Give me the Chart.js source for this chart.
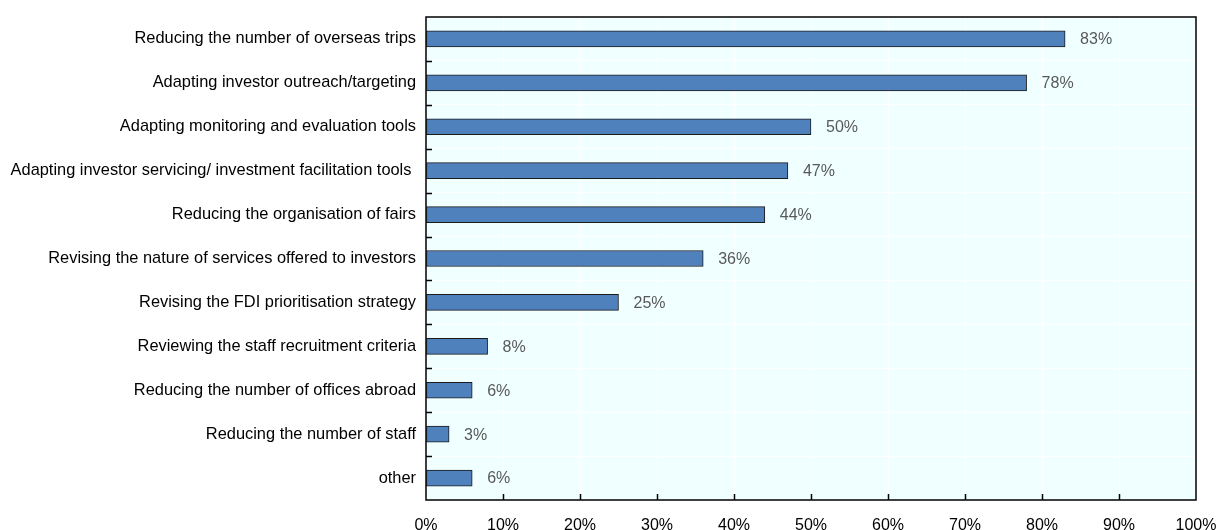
<!DOCTYPE html>
<html>
<head>
<meta charset="utf-8">
<script src="https://cdn.jsdelivr.net/npm/chart.js@4.4.0/dist/chart.umd.min.js"></script>
<style>
  html, body { margin: 0; padding: 0; background: #ffffff; }
  #wrap { width: 1219px; height: 530px; }
</style>
</head>
<body>
<div id="wrap"><canvas id="chart" width="1219" height="530"></canvas></div>
<script>
// Measures adapted by investment promotion agencies (share of respondents, %)
const categories = [
  "Reducing the number of overseas trips",
  "Adapting investor outreach/targeting",
  "Adapting monitoring and evaluation tools",
  "Adapting investor servicing/ investment facilitation tools ",
  "Reducing the organisation of fairs",
  "Revising the nature of services offered to investors",
  "Revising the FDI prioritisation strategy",
  "Reviewing the staff recruitment criteria",
  "Reducing the number of offices abroad",
  "Reducing the number of staff",
  "other"
];
const shares = [83, 78, 50, 47, 44, 36, 25, 8, 6, 3, 6];
const xTicks = [0, 10, 20, 30, 40, 50, 60, 70, 80, 90, 100];

Chart.defaults.font.family = "'Liberation Sans', Arial, sans-serif";
Chart.defaults.font.size = 16;

// Pale plot background
const plotBackground = {
  id: 'plotBackground',
  beforeDraw(chart) {
    const { ctx, chartArea: a } = chart;
    ctx.save();
    ctx.fillStyle = '#F0FFFF';
    ctx.fillRect(a.left, a.top, a.right - a.left, a.bottom - a.top);
    ctx.restore();
  }
};

// Frame around the plot plus inward tick marks
const frameAndTicks = {
  id: 'frameAndTicks',
  afterDraw(chart) {
    const { ctx, chartArea: a, scales } = chart;
    ctx.save();
    ctx.strokeStyle = '#000000';
    ctx.lineWidth = 1.5;
    ctx.strokeRect(a.left, a.top, a.right - a.left, a.bottom - a.top);
    // bottom axis ticks pointing up
    xTicks.slice(1, -1).forEach(v => {
      const x = Math.round(scales.x.getPixelForValue(v)) + 0.5;
      ctx.beginPath();
      ctx.moveTo(x, a.bottom);
      ctx.lineTo(x, a.bottom - 6);
      ctx.stroke();
    });
    // left axis ticks between categories pointing right
    const n = categories.length;
    for (let i = 1; i < n; i++) {
      const y = Math.round((scales.y.getPixelForValue(i - 1) + scales.y.getPixelForValue(i)) / 2) + 0.5;
      ctx.beginPath();
      ctx.moveTo(a.left, y);
      ctx.lineTo(a.left + 6, y);
      ctx.stroke();
    }
    ctx.restore();
  }
};

// Percentage labels to the right of each bar
const valueLabels = {
  id: 'valueLabels',
  afterDatasetsDraw(chart) {
    const { ctx } = chart;
    const meta = chart.getDatasetMeta(0);
    ctx.save();
    ctx.fillStyle = '#595959';
    ctx.font = "16px 'Liberation Sans', Arial, sans-serif";
    ctx.textAlign = 'left';
    ctx.textBaseline = 'middle';
    meta.data.forEach((bar, i) => {
      ctx.fillText(Math.round(shares[i]) + '%', bar.x + 15, bar.y + 1);
    });
    ctx.restore();
  }
};

new Chart(document.getElementById('chart'), {
  type: 'bar',
  data: {
    labels: categories,
    datasets: [{
      data: shares,
      backgroundColor: '#4F81BD',
      borderColor: '#1a1a1a',
      borderWidth: 1,
      borderSkipped: false,
      barThickness: 16
    }]
  },
  options: {
    indexAxis: 'y',
    responsive: false,
    animation: false,
    devicePixelRatio: 1,
    layout: { padding: { top: 17, right: 23, left: 0, bottom: 0 } },
    plugins: {
      legend: { display: false },
      tooltip: { enabled: false }
    },
    scales: {
      x: {
        min: 0,
        max: 100,
        afterBuildTicks(scale) {
          scale.ticks = xTicks.map(v => ({ value: v }));
        },
        afterFit(scale) {
          scale.height = 30;
          scale.paddingLeft = 0;
          scale.paddingRight = 0;
        },
        ticks: {
          color: '#000000',
          padding: 16,
          maxRotation: 0,
          callback: v => v + '%'
        },
        grid: { color: '#ffffff', lineWidth: 1, drawTicks: false },
        border: { display: false }
      },
      y: {
        afterFit(scale) {
          scale.width = 426;
          scale.paddingTop = 0;
          scale.paddingBottom = 0;
        },
        ticks: { color: '#000000', padding: 10, font: { size: 16.4 } },
        grid: { color: '#ffffff', lineWidth: 1, drawTicks: false, offset: true },
        border: { display: false }
      }
    }
  },
  plugins: [plotBackground, frameAndTicks, valueLabels]
});
</script>
</body>
</html>
